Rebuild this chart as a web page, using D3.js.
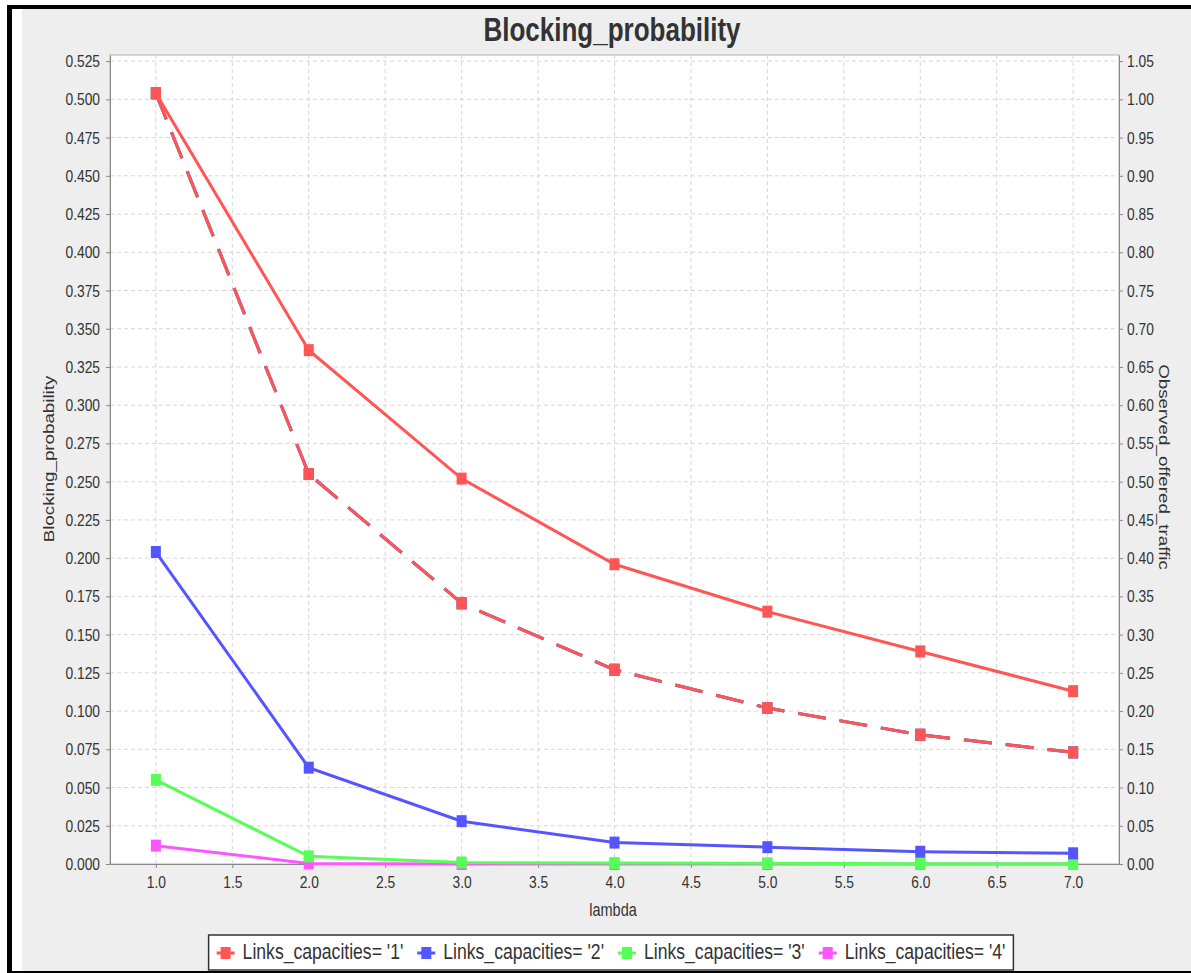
<!DOCTYPE html>
<html>
<head>
<meta charset="utf-8">
<script src="https://cdn.jsdelivr.net/npm/d3@7"></script>
<style>
body { margin: 0; background: #fff; }
svg { display: block; }
text { font-family: "Liberation Sans", Arial, sans-serif; fill: #333; }
</style>
</head>
<body>
<div id="chart"></div>
<script>
// values
var lambdas = [1, 2, 3, 4, 5, 6, 7];
var blockCap1 = [0.504, 0.336, 0.252, 0.196, 0.165, 0.139, 0.113];
var blockCap2 = [0.204, 0.063, 0.028, 0.014, 0.011, 0.008, 0.007];
var blockCap3 = [0.055, 0.005, 0.001, 0.0006, 0.0005, 0.0002, 0.0001];
var blockCap4 = [0.012, 0.0004, 0, 0, 0, 0, 0];
// observed offered traffic (right axis), identical for the four series
var offeredTraffic = [1.008, 0.510, 0.341, 0.254, 0.204, 0.169, 0.146];

var seriesNames = ["Links_capacities= '1'", "Links_capacities= '2'", "Links_capacities= '3'", "Links_capacities= '4'"];
var seriesColors = ["#ff5555", "#5555ff", "#55ff55", "#ff55ff"];

var xTicks = [1.0, 1.5, 2.0, 2.5, 3.0, 3.5, 4.0, 4.5, 5.0, 5.5, 6.0, 6.5, 7.0];
var leftTicks = [0, 0.025, 0.05, 0.075, 0.1, 0.125, 0.15, 0.175, 0.2, 0.225, 0.25, 0.275, 0.3, 0.325, 0.35, 0.375, 0.4, 0.425, 0.45, 0.475, 0.5, 0.525];
var rightTicks = [0, 0.05, 0.1, 0.15, 0.2, 0.25, 0.3, 0.35, 0.4, 0.45, 0.5, 0.55, 0.6, 0.65, 0.7, 0.75, 0.8, 0.85, 0.9, 0.95, 1.0, 1.05];

var width = 1191;
var height = 973;
var stretch = 1.25; // the picture is taller than wide, text included

var plot = { left: 110, top: 55, right: 1119, bottom: 864 };

var svg = d3.select("#chart").
append("svg").
attr("width", width).
attr("height", height);

// frame
svg.append("rect").attr("x", 0).attr("y", 0).attr("width", width).attr("height", height).attr("fill", "#fff");
svg.append("rect").attr("x", 22).attr("y", 9).attr("width", width - 22).attr("height", 962).attr("fill", "#eeeeee");
svg.append("rect").attr("x", 7).attr("y", 5).attr("width", width - 7).attr("height", 4).attr("fill", "#000");
svg.append("rect").attr("x", 7).attr("y", 5).attr("width", 5).attr("height", 967).attr("fill", "#000");
svg.append("rect").attr("x", 7).attr("y", 971).attr("width", width - 7).attr("height", 2).attr("fill", "#000");

var x = d3.scaleLinear().domain([0.7, 7.3]).range([plot.left, plot.right]);
var yLeft = d3.scaleLinear().domain([0, 0.529]).range([plot.bottom, plot.top]);
var yRight = d3.scaleLinear().domain([0, 1.058]).range([plot.bottom, plot.top]);

svg.append("rect").
attr("x", plot.left).
attr("y", plot.top).
attr("width", plot.right - plot.left).
attr("height", plot.bottom - plot.top).
attr("fill", "#fff").
attr("stroke", "#b0b0b0");

// grid
var grid = svg.append("g").attr("stroke", "#d6d6d6").attr("stroke-dasharray", "4,3");
grid.selectAll("line.h").data(leftTicks.slice(1)).enter().append("line").
attr("x1", plot.left).attr("x2", plot.right).
attr("y1", function (d) {return yLeft(d);}).attr("y2", function (d) {return yLeft(d);});
grid.selectAll("line.v").data(xTicks).enter().append("line").
attr("y1", plot.top).attr("y2", plot.bottom).
attr("x1", function (d) {return x(d);}).attr("x2", function (d) {return x(d);});

// axes
function styleAxis(g) {
    g.select(".domain").attr("stroke", "#888");
    g.selectAll(".tick line").attr("stroke", "#888");
    g.selectAll(".tick text").attr("font-size", 13.8).attr("fill", "#333").
    attr("font-family", "'Liberation Sans', Arial, sans-serif");
}

var gl = svg.append("g").attr("transform", "translate(" + plot.left + ",0)").
call(d3.axisLeft(yLeft).tickValues(leftTicks).tickFormat(d3.format(".3f")).tickSize(4).tickPadding(6).tickSizeOuter(0));
styleAxis(gl);
gl.selectAll(".tick text").attr("transform", "scale(1," + stretch + ")");

var gr = svg.append("g").attr("transform", "translate(" + plot.right + ",0)").
call(d3.axisRight(yRight).tickValues(rightTicks).tickFormat(d3.format(".2f")).tickSize(4).tickPadding(4).tickSizeOuter(0));
styleAxis(gr);
gr.selectAll(".tick text").attr("transform", "scale(1," + stretch + ")");

var gb = svg.append("g").attr("transform", "translate(0," + plot.bottom + ")").
call(d3.axisBottom(x).tickValues(xTicks).tickFormat(d3.format(".1f")).tickSize(4).tickSizeOuter(0));
styleAxis(gb);
gb.selectAll(".tick text").attr("y", 24 / stretch).attr("dy", 0).attr("transform", "scale(1," + stretch + ")");

// titles
function label(px, py, str, size, opts) {
    opts = opts || {};
    var tr = "translate(" + px + "," + py + ")";
    if (opts.rotate) tr += " rotate(" + opts.rotate + ") scale(" + stretch + ",1)";
    else tr += " scale(1," + stretch + ")";
    return svg.append("text").
    attr("transform", tr).
    attr("text-anchor", opts.anchor || "middle").
    attr("font-size", size).
    attr("font-weight", opts.bold ? "bold" : "normal").
    attr("fill", opts.fill || "#333").
    text(str);
}

label(612, 41, "Blocking_probability", 26, { bold: true, fill: "#000" });
label(613, 916, "lambda", 14.5);
label(54, 459, "Blocking_probability", 15, { rotate: -90 });
label(1159, 467, "Observed_offered_traffic", 15, { rotate: 90 });

// series
var blocking = [blockCap1, blockCap2, blockCap3, blockCap4];

var lineLeft = d3.line().
x(function (d, i) {return x(lambdas[i]);}).
y(function (d) {return yLeft(d);});
var lineRight = d3.line().
x(function (d, i) {return x(lambdas[i]);}).
y(function (d) {return yRight(d);});

var mw = 10, mh = 12;

function markers(g, vals, scale, color) {
    g.selectAll("rect").data(vals).enter().append("rect").
    attr("x", function (d, i) {return x(lambdas[i]) - mw / 2;}).
    attr("y", function (d) {return scale(d) - mh / 2;}).
    attr("width", mw).
    attr("height", mh).
    attr("fill", color);
}

// dashed offered-traffic series, drawn last-to-first so '1' ends on top
[3, 2, 1, 0].forEach(function (s) {
    var g = svg.append("g");
    g.append("path").
    attr("d", lineRight(offeredTraffic)).
    attr("fill", "none").
    attr("stroke", seriesColors[s]).
    attr("stroke-width", 3).
    attr("stroke-dasharray", "28,14");
    markers(g, offeredTraffic, yRight, seriesColors[s]);
});

[3, 2, 1, 0].forEach(function (s) {
    var g = svg.append("g");
    g.append("path").
    attr("d", lineLeft(blocking[s])).
    attr("fill", "none").
    attr("stroke", seriesColors[s]).
    attr("stroke-width", 3);
    markers(g, blocking[s], yLeft, seriesColors[s]);
});

// legend
var legend = svg.append("g");
var legendBox = legend.append("rect").attr("fill", "#fff").attr("stroke", "#333").attr("stroke-width", 1.5);
var cx = 0;
var items = legend.selectAll("g.item").data(seriesNames).enter().append("g");
items.each(function (d, i) {
    var it = d3.select(this);
    it.append("line").attr("x1", cx - 9).attr("x2", cx + 9).attr("y1", 0).attr("y2", 0).
    attr("stroke", seriesColors[i]).attr("stroke-width", 3);
    it.append("rect").attr("x", cx - 5).attr("y", -6).attr("width", 10).attr("height", 12).attr("fill", seriesColors[i]);
    var t = it.append("text").
    attr("transform", "translate(" + (cx + 17) + ",6) scale(1," + stretch + ")").
    attr("font-size", 17.6).
    attr("fill", "#000").
    text(d);
    cx += 17 + t.node().getComputedTextLength() + 23;
});
var contentW = cx - 23 + 9;
var boxW = contentW + 16;
var boxX = 611 - boxW / 2;
legendBox.attr("x", boxX).attr("y", 935).attr("width", boxW).attr("height", 35);
items.attr("transform", "translate(" + (boxX + 8 + 9) + ",953)");
</script>
</body>
</html>
